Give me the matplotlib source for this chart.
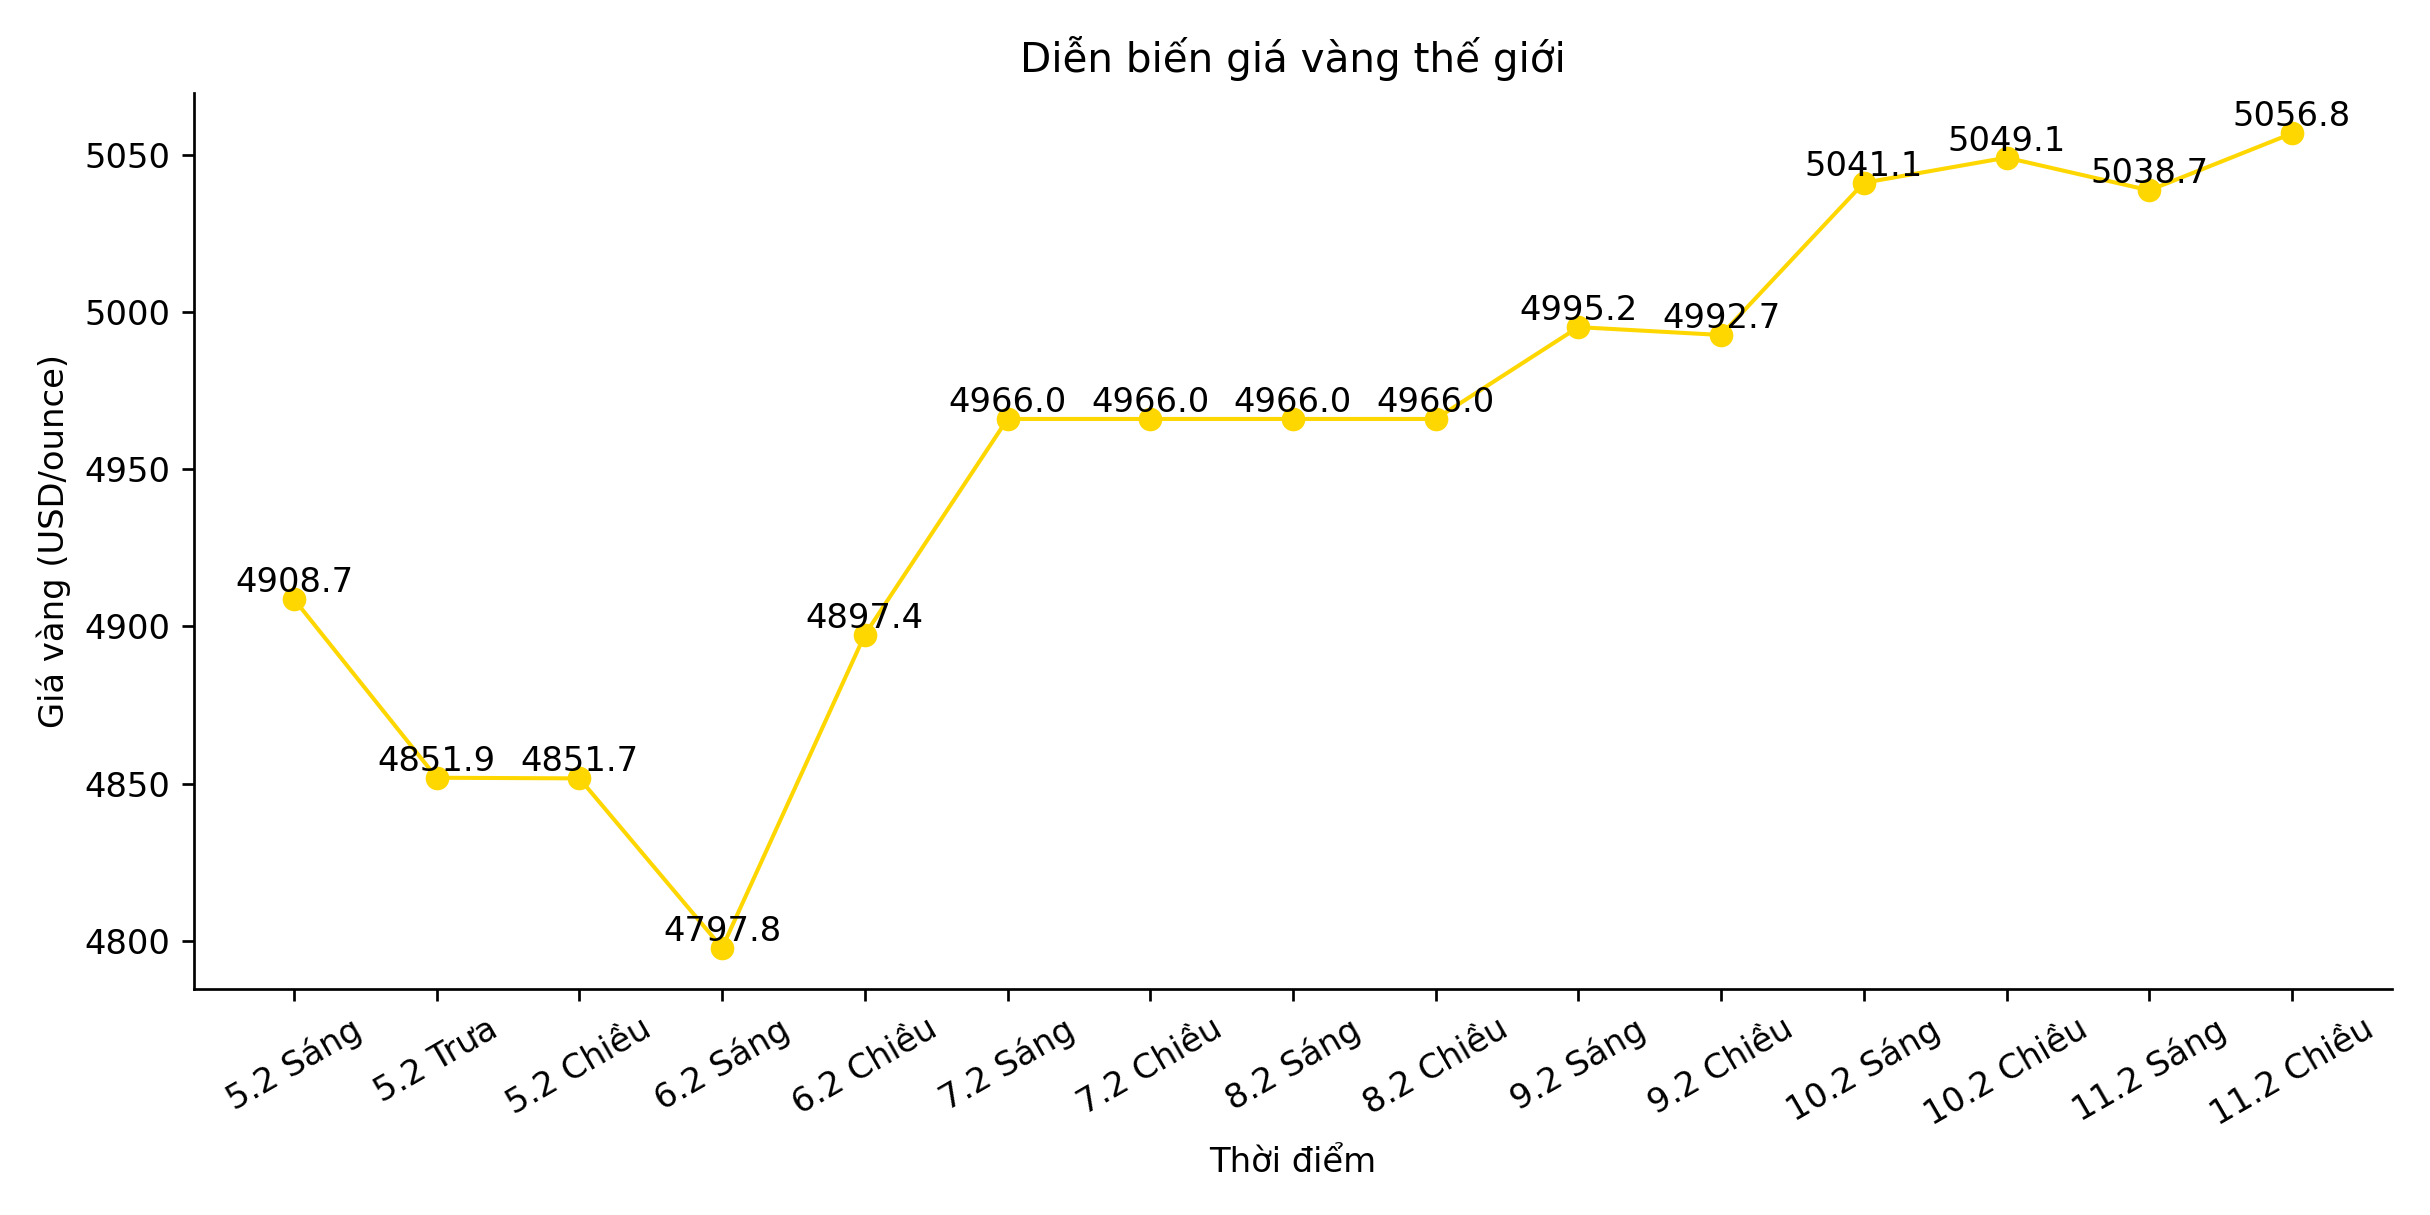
import matplotlib
matplotlib.use("Agg")
import matplotlib.pyplot as plt

labels = ["5.2 Sáng", "5.2 Trưa", "5.2 Chiều", "6.2 Sáng", "6.2 Chiều", "7.2 Sáng", "7.2 Chiều",
          "8.2 Sáng", "8.2 Chiều", "9.2 Sáng", "9.2 Chiều", "10.2 Sáng", "10.2 Chiều", "11.2 Sáng", "11.2 Chiều"]
prices = [4908.7, 4851.9, 4851.7, 4797.8, 4897.4, 4966.0, 4966.0, 4966.0, 4966.0,
          4995.2, 4992.7, 5041.1, 5049.1, 5038.7, 5056.8]

fig, ax = plt.subplots(figsize=(10, 5), dpi=243)
x = list(range(len(labels)))
ax.plot(x, prices, color="#FFD700", marker="o", linewidth=1.2, markersize=6)
for xi, v in zip(x, prices):
    ax.text(xi, v, f"{v:.1f}", ha="center", va="bottom", fontsize=10)
ax.set_xticks(x)
ax.set_xticklabels(labels, rotation=30)
ax.set_title("Diễn biến giá vàng thế giới")
ax.set_xlabel("Thời điểm")
ax.set_ylabel("Giá vàng (USD/ounce)")
ax.spines["top"].set_visible(False)
ax.spines["right"].set_visible(False)
fig.tight_layout()
fig.savefig("out.png")
